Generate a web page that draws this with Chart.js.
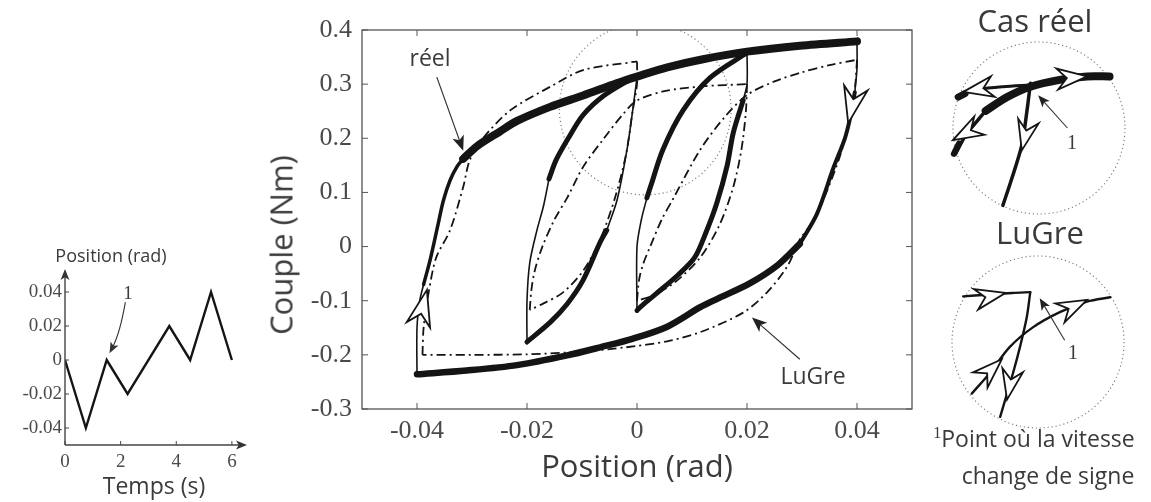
<!DOCTYPE html>
<html lang="fr">
<head>
<meta charset="utf-8">
<title>Hystérésis couple / position : cas réel et modèle LuGre</title>
<script src="https://cdn.jsdelivr.net/npm/chart.js@4.4.1/dist/chart.umd.min.js"></script>
<style>
  html, body { margin: 0; padding: 0; background: #fff; }
  body { position: relative; width: 1151px; height: 502px; overflow: hidden; font-family: "Open Sans", sans-serif; color: #3a3a3a; }
  .bloc { position: absolute; }
  .txt { position: absolute; white-space: nowrap; line-height: 1; transform: translate(-50%, -50%); }
  .serif { font-family: "Liberation Serif", serif; }
  sup { vertical-align: 0.55em; line-height: 0; }
</style>
</head>
<body>
<div class="bloc" style="left:0; top:236px; width:252px; height:266px;"><canvas id="graphePosition"></canvas></div>
<div class="bloc" style="left:250px; top:0; width:680px; height:502px;"><canvas id="grapheCouple"></canvas></div>
<div class="bloc" style="left:939px; top:28px; width:200px; height:200px;"><canvas id="loupeReel"></canvas></div>
<div class="bloc" style="left:938px; top:242px; width:200px; height:200px;"><canvas id="loupeLugre"></canvas></div>

<div class="txt" style="left:111px; top:255px; font-size:18px;">Position (rad)</div>
<div class="txt" style="left:154px; top:485px; font-size:23px;">Temps (s)</div>
<div class="txt serif" style="left:128px; top:292px; font-size:19px;">1</div>
<div class="txt" style="left:281px; top:245px; font-size:31px; transform: translate(-50%, -50%) rotate(-90deg);">Couple (Nm)</div>
<div class="txt" style="left:637px; top:465px; font-size:31px;">Position (rad)</div>
<div class="txt" style="left:430px; top:57px; font-size:23px;">réel</div>
<div class="txt" style="left:813px; top:375px; font-size:23px;">LuGre</div>
<div class="txt" style="left:1035px; top:20px; font-size:31px;">Cas réel</div>
<div class="txt" style="left:1040px; top:232px; font-size:31px;">LuGre</div>
<div class="txt serif" style="left:1072px; top:142px; font-size:20px;">1</div>
<div class="txt serif" style="left:1073px; top:352px; font-size:20px;">1</div>
<div class="txt" style="left:1034px; top:438px; font-size:23px;"><sup class="serif" style="font-size:16px;">1</sup>Point où la vitesse</div>
<div class="txt" style="left:1048px; top:475px; font-size:23px;">change de signe</div>

<script>
// --- Consigne de position (petit graphe de gauche) ---
const tempsS = [0, 0.75, 1.5, 2.25, 3.75, 4.5, 5.25, 6];
const positionRad = [0, -0.04, 0, -0.02, 0.02, 0, 0.04, 0];
const ticksTemps = [0, 2, 4, 6];
const ticksPosition = [-0.04, -0.02, 0, 0.02, 0.04];
// fleche "1" : depart, point de controle, arrivee
const repereUn = [2.17, 0.034, 1.98, 0.016, 1.6, 0.004];

// --- Couple en fonction de la position (graphe central) ---
const ticksX = [-0.04, -0.02, 0, 0.02, 0.04];
const ticksCouple = [-0.3, -0.2, -0.1, 0, 0.1, 0.2, 0.3, 0.4];

// mesure reelle, morceau par morceau
const reelMonteeVerticale = [[-0.04, -0.236], [-0.04, -0.15], [-0.0395, -0.1], [-0.0388, -0.07]];
const reelMonteeExt = [[-0.0388, -0.07], [-0.0376, -0.024], [-0.0363, 0.035], [-0.0352, 0.085], [-0.034, 0.122], [-0.0327, 0.148], [-0.0316, 0.162]];
const reelHautExt = [[-0.0316, 0.162], [-0.029, 0.186], [-0.025, 0.212], [-0.0218, 0.232], [-0.0158, 0.258], [-0.0098, 0.279], [-0.0036, 0.302], [0, 0.314], [0.0055, 0.331], [0.012, 0.346], [0.02, 0.36], [0.0296, 0.371], [0.04, 0.379]];
const reelDescenteVerticale = [[0.04, 0.379], [0.04, 0.33], [0.0396, 0.285]];
const reelDescenteExt = [[0.0396, 0.285], [0.0388, 0.24], [0.0378, 0.2], [0.0357, 0.145], [0.0327, 0.06], [0.0296, 0.005]];
const reelBasExt = [[0.0296, 0.005], [0.0255, -0.035], [0.0205, -0.068], [0.0145, -0.097], [0.0115, -0.112], [0.0055, -0.148], [-0.0007, -0.17], [-0.0067, -0.186], [-0.0127, -0.201], [-0.0218, -0.219], [-0.031, -0.229], [-0.04, -0.236]];
const reelDescGaucheFin = [[0, 0.312], [-0.0008, 0.25], [-0.0018, 0.18], [-0.0036, 0.087], [-0.0055, 0.03]];
const reelDescGaucheEpais = [[-0.0055, 0.03], [-0.0067, 0.008], [-0.0098, -0.062], [-0.0127, -0.106], [-0.0158, -0.14], [-0.02, -0.176]];
const reelMonteeGaucheFin = [[-0.02, -0.18], [-0.02, -0.1], [-0.0195, -0.03], [-0.0182, 0.03], [-0.017, 0.075], [-0.016, 0.125]];
const reelMonteeGaucheEpais = [[-0.016, 0.125], [-0.0147, 0.16], [-0.0125, 0.2], [-0.0098, 0.243], [-0.006, 0.279], [-0.0007, 0.312]];
const reelDescDroiteFin = [[0.02, 0.36], [0.02, 0.3], [0.0193, 0.27]];
const reelDescDroiteEpais = [[0.0193, 0.27], [0.0175, 0.21], [0.0164, 0.15], [0.0145, 0.08], [0.0125, 0.025], [0.0105, -0.02], [0.0075, -0.052], [0.0035, -0.087], [0.0008, -0.11], [0, -0.118]];
const reelMonteeDroiteFin = [[0, -0.12], [0, 0], [0.0008, 0.05], [0.0018, 0.09]];
const reelMonteeDroiteEpais = [[0.0018, 0.09], [0.0026, 0.115], [0.0047, 0.179], [0.0084, 0.252], [0.0133, 0.312], [0.02, 0.358]];

// modele LuGre
const lugreBas = [[0.04, 0.345], [0.0397, 0.3], [0.039, 0.25], [0.037, 0.17], [0.034, 0.09], [0.0315, 0.04], [0.0296, 0.013], [0.0273, -0.037], [0.0236, -0.085], [0.0193, -0.122], [0.0115, -0.158], [0.0055, -0.175], [-0.002, -0.186], [-0.01, -0.194], [-0.02, -0.199], [-0.03, -0.2], [-0.039, -0.2]];
const lugreMonteeExt = [[-0.039, -0.2], [-0.0388, -0.15], [-0.0378, -0.08], [-0.0365, -0.02], [-0.034, 0.03], [-0.0316, 0.11], [-0.0304, 0.16], [-0.028, 0.2], [-0.023, 0.252], [-0.0158, 0.295], [-0.0098, 0.326], [-0.0007, 0.341], [0, 0.342]];
const lugreDescGauche = [[0, 0.342], [0, 0.3], [-0.0008, 0.25], [-0.002, 0.17], [-0.004, 0.09], [-0.0067, 0.013], [-0.0098, -0.045], [-0.0135, -0.085], [-0.017, -0.105], [-0.0195, -0.117]];
const lugreMonteeInter = [[-0.0195, -0.117], [-0.0192, -0.08], [-0.0186, -0.045], [-0.0172, 0], [-0.015, 0.05], [-0.0127, 0.09], [-0.0098, 0.147], [-0.006, 0.2], [-0.0025, 0.245], [0, 0.27], [0.005, 0.287], [0.012, 0.296], [0.02, 0.3]];
const lugreDescDroite = [[0.02, 0.3], [0.0198, 0.25], [0.019, 0.18], [0.0175, 0.11], [0.015, 0.04], [0.0115, -0.02], [0.007, -0.065], [0.003, -0.09], [0, -0.1]];
const lugreMonteeDroite = [[0, -0.1], [0.0004, -0.06], [0.0012, -0.03], [0.0024, 0], [0.0045, 0.05], [0.0065, 0.087], [0.0115, 0.179], [0.016, 0.24], [0.02, 0.28], [0.025, 0.305], [0.03, 0.322], [0.035, 0.335], [0.04, 0.345]];

// pointes creuses [pointe x, pointe y, arriere x, arriere y]
const flechesCouple = [[-0.0382, -0.08, -0.0398, -0.147], [0.0384, 0.228, 0.0396, 0.284]];
// reperes "reel" et "LuGre" [depart x, depart y, arrivee x, arrivee y]
const reperesCouple = [[-0.0364, 0.313, -0.0316, 0.177], [0.0296, -0.208, 0.0209, -0.131]];
// cercle de la loupe [centre x, centre y, rayon en x]
const loupeCouple = [0.0015, 0.254, 0.0156];

// --- Loupes de droite (unites : rayon du cercle = 1) ---
const casReelEpais = [[-0.62, 0.2], [-0.37, 0.36], [-0.1, 0.48], [0.24, 0.56], [0.56, 0.6], [0.82, 0.6]];
const casReelBasGauche = [[-0.97, -0.3], [-0.85, -0.08], [-0.72, 0.08], [-0.62, 0.2]];
const casReelHautGauche = [[-0.1, 0.5], [-0.42, 0.48], [-0.7, 0.45], [-0.9, 0.4]];
const casReelDescente = [[-0.1, 0.52], [-0.14, 0.2], [-0.2, -0.2], [-0.32, -0.6], [-0.42, -0.9]];
const casReelBouts = [[-0.94, 0.36], [-0.86, 0.4]];
const casReelBoutBas = [[-0.99, -0.3], [-0.93, -0.18]];
const flechesCasReel = [[-0.88, 0.42, -0.55, 0.48], [-1.0, -0.14, -0.69, 0.03], [0.56, 0.6, 0.22, 0.57], [-0.2, -0.26, -0.13, 0.05]];
const repereCasReel = [0.33, 0.0, -0.01, 0.38];

const lugreHaut = [[-0.87, 0.53], [-0.6, 0.55], [-0.3, 0.57], [-0.09, 0.58]];
const lugreChute = [[-0.09, 0.58], [-0.13, 0.29], [-0.21, -0.06], [-0.29, -0.36], [-0.44, -0.87]];
const lugreCourbe = [[-0.77, -0.6], [-0.56, -0.36], [-0.33, -0.06], [-0.06, 0.17], [0.26, 0.35], [0.57, 0.47], [0.84, 0.52]];
const flechesLugre = [[-0.38, 0.57, -0.8, 0.48], [-0.36, -0.67, -0.3, -0.36], [-0.42, -0.2, -0.68, -0.45], [0.57, 0.49, 0.28, 0.35]];
const repereLugre = [0.31, 0.02, 0.02, 0.51];

const NOIR = '#141414';

Chart.defaults.font.family = '"Liberation Serif", serif';
Chart.defaults.animation = false;

function serie(points, largeur, pointille) {
    return {
        data: points.map(([x, y]) => ({ x, y })),
        showLine: true,
        borderColor: NOIR,
        borderWidth: largeur,
        borderDash: pointille ? [9, 4, 2, 4] : [],
        borderCapStyle: pointille ? 'butt' : 'round',
        borderJoinStyle: 'round',
        tension: 0.3,
        pointRadius: 0,
        pointHitRadius: 0,
    };
}

function trait(ctx, x1, y1, x2, y2) {
    ctx.beginPath();
    ctx.moveTo(x1, y1);
    ctx.lineTo(x2, y2);
    ctx.stroke();
}

// pointe creuse a encoche
function dard(ctx, xp, yp, xq, yq, longueur, largeur) {
    const a = Math.atan2(yp - yq, xp - xq);
    ctx.save();
    ctx.translate(xp, yp);
    ctx.rotate(a);
    ctx.beginPath();
    ctx.moveTo(0, 0);
    ctx.lineTo(-longueur, -largeur / 2);
    ctx.lineTo(-longueur * 0.68, 0);
    ctx.lineTo(-longueur, largeur / 2);
    ctx.closePath();
    ctx.fillStyle = '#fff';
    ctx.fill();
    ctx.lineWidth = 1.8;
    ctx.strokeStyle = NOIR;
    ctx.lineJoin = 'miter';
    ctx.stroke();
    ctx.restore();
}

function pointePleine(ctx, x, y, angle, taille) {
    ctx.save();
    ctx.translate(x, y);
    ctx.rotate(angle);
    ctx.beginPath();
    ctx.moveTo(0, 0);
    ctx.lineTo(-taille, -taille * 0.4);
    ctx.lineTo(-taille * 0.75, 0);
    ctx.lineTo(-taille, taille * 0.4);
    ctx.closePath();
    ctx.fill();
    ctx.restore();
}

function flechePleine(ctx, x1, y1, x2, y2, taille) {
    const a = Math.atan2(y2 - y1, x2 - x1);
    trait(ctx, x1, y1, x2 - Math.cos(a) * taille * 0.7, y2 - Math.sin(a) * taille * 0.7);
    pointePleine(ctx, x2, y2, a, taille);
}

function cerclePointille(ctx, cx, cy, r) {
    ctx.save();
    ctx.setLineDash([1.2, 2.8]);
    ctx.lineWidth = 1.1;
    ctx.strokeStyle = '#7a7a7a';
    ctx.beginPath();
    ctx.arc(cx, cy, r, 0, Math.PI * 2);
    ctx.stroke();
    ctx.restore();
}

// ---------- graphe de gauche ----------
const decorPosition = {
    id: 'decorPosition',
    afterDraw(chart) {
        const { ctx, chartArea: a, scales: { x, y } } = chart;
        const x0 = x.getPixelForValue(0);
        const yb = a.bottom;
        ctx.save();
        ctx.strokeStyle = '#444';
        ctx.fillStyle = '#333';
        ctx.lineWidth = 1.4;
        trait(ctx, x0, yb, x0, a.top - 2);
        trait(ctx, x0, yb, a.right, yb);
        pointePleine(ctx, x0, a.top - 6, -Math.PI / 2, 11);
        pointePleine(ctx, a.right + 4, yb, 0, 11);
        ctx.lineWidth = 1;
        ticksPosition.forEach(v => { const py = y.getPixelForValue(v); trait(ctx, x0, py, x0 + 4, py); });
        ticksTemps.forEach(v => { const px = x.getPixelForValue(v); trait(ctx, px, yb, px, yb - 4); });
        // fleche courbe vers le point 1
        const [t1, p1, tc, pc, t2, p2] = repereUn;
        const xa = x.getPixelForValue(t1), ya = y.getPixelForValue(p1);
        const xc = x.getPixelForValue(tc), yc = y.getPixelForValue(pc);
        const xe = x.getPixelForValue(t2), ye = y.getPixelForValue(p2);
        const ang = Math.atan2(ye - yc, xe - xc);
        ctx.strokeStyle = '#333';
        ctx.lineWidth = 1.1;
        ctx.beginPath();
        ctx.moveTo(xa, ya);
        ctx.quadraticCurveTo(xc, yc, xe - Math.cos(ang) * 7, ye - Math.sin(ang) * 7);
        ctx.stroke();
        pointePleine(ctx, xe, ye, ang, 11);
        ctx.restore();
    },
};

new Chart(document.getElementById('graphePosition'), {
    type: 'scatter',
    data: {
        datasets: [{
            data: tempsS.map((t, i) => ({ x: t, y: positionRad[i] })),
            showLine: true,
            borderColor: NOIR,
            borderWidth: 2.4,
            borderJoinStyle: 'miter',
            pointRadius: 0,
            pointHitRadius: 0,
        }],
    },
    options: {
        responsive: true,
        maintainAspectRatio: false,
        layout: { padding: { left: 0, right: 9, top: 39, bottom: 0 } },
        plugins: { legend: { display: false }, tooltip: { enabled: false } },
        scales: {
            x: {
                type: 'linear', min: 0, max: 6.4,
                afterBuildTicks: s => { s.ticks = ticksTemps.map(value => ({ value })); },
                afterFit: s => { s.height = 57; },
                grid: { display: false, drawTicks: false },
                border: { display: false },
                ticks: { padding: 6, color: '#4a4a4a', font: { size: 19 }, maxRotation: 0, autoSkip: false, callback: v => String(v) },
            },
            y: {
                type: 'linear', min: -0.05, max: 0.05,
                afterBuildTicks: s => { s.ticks = ticksPosition.map(value => ({ value })); },
                afterFit: s => { s.width = 65; },
                grid: { display: false, drawTicks: false },
                border: { display: false },
                ticks: { padding: 3, color: '#4a4a4a', font: { size: 19 }, autoSkip: false, callback: v => (v === 0 ? '0' : v.toFixed(2)) },
            },
        },
    },
    plugins: [decorPosition],
});

// ---------- graphe central ----------
const decorCouple = {
    id: 'decorCouple',
    beforeDatasetsDraw(chart) {
        const { ctx, chartArea: a, scales: { x, y } } = chart;
        const cx = x.getPixelForValue(loupeCouple[0]);
        const cy = y.getPixelForValue(loupeCouple[1]);
        const r = x.getPixelForValue(loupeCouple[0] + loupeCouple[2]) - cx;
        ctx.save();
        ctx.beginPath();
        ctx.rect(a.left, a.top, a.right - a.left, a.bottom - a.top);
        ctx.clip();
        cerclePointille(ctx, cx, cy, r);
        ctx.restore();
    },
    afterDatasetsDraw(chart) {
        const { ctx, chartArea: a, scales: { x, y } } = chart;
        ctx.save();
        flechesCouple.forEach(f => dard(ctx, x.getPixelForValue(f[0]), y.getPixelForValue(f[1]), x.getPixelForValue(f[2]), y.getPixelForValue(f[3]), 36, 24));
        ctx.strokeStyle = '#333';
        ctx.fillStyle = '#222';
        ctx.lineWidth = 1.2;
        reperesCouple.forEach(f => flechePleine(ctx, x.getPixelForValue(f[0]), y.getPixelForValue(f[1]), x.getPixelForValue(f[2]), y.getPixelForValue(f[3]), 15));
        ctx.strokeStyle = '#555';
        ctx.lineWidth = 1.3;
        ctx.strokeRect(a.left, a.top, a.right - a.left, a.bottom - a.top);
        ctx.lineWidth = 1;
        ticksX.forEach(v => {
            const px = x.getPixelForValue(v);
            trait(ctx, px, a.bottom, px, a.bottom - 6);
            trait(ctx, px, a.top, px, a.top + 6);
        });
        ticksCouple.forEach(v => {
            const py = y.getPixelForValue(v);
            trait(ctx, a.left, py, a.left + 6, py);
            trait(ctx, a.right, py, a.right - 6, py);
        });
        ctx.restore();
    },
};

new Chart(document.getElementById('grapheCouple'), {
    type: 'scatter',
    data: {
        datasets: [
            serie(reelHautExt, 8),
            serie(reelBasExt, 6.5),
            serie(reelMonteeExt, 3.5),
            serie(reelDescenteExt, 4),
            serie(reelMonteeVerticale, 1.6),
            serie(reelDescenteVerticale, 1.6),
            serie(reelDescGaucheFin, 1.6),
            serie(reelDescGaucheEpais, 5),
            serie(reelMonteeGaucheFin, 1.6),
            serie(reelMonteeGaucheEpais, 5),
            serie(reelDescDroiteFin, 1.6),
            serie(reelDescDroiteEpais, 5),
            serie(reelMonteeDroiteFin, 1.6),
            serie(reelMonteeDroiteEpais, 5),
            serie(lugreBas, 1.8, true),
            serie(lugreMonteeExt, 1.8, true),
            serie(lugreDescGauche, 1.8, true),
            serie(lugreMonteeInter, 1.8, true),
            serie(lugreDescDroite, 1.8, true),
            serie(lugreMonteeDroite, 1.8, true),
        ],
    },
    options: {
        responsive: true,
        maintainAspectRatio: false,
        layout: { padding: { left: 0, right: 18, top: 30, bottom: 0 } },
        plugins: { legend: { display: false }, tooltip: { enabled: false } },
        scales: {
            x: {
                type: 'linear', min: -0.05, max: 0.05,
                afterBuildTicks: s => { s.ticks = ticksX.map(value => ({ value })); },
                afterFit: s => { s.height = 93; },
                grid: { display: false, drawTicks: false },
                border: { display: false },
                ticks: { padding: 7, color: '#4a4a4a', font: { size: 26 }, maxRotation: 0, autoSkip: false, callback: v => (v === 0 ? '0' : v.toFixed(2)) },
            },
            y: {
                type: 'linear', min: -0.3, max: 0.4,
                afterBuildTicks: s => { s.ticks = ticksCouple.map(value => ({ value })); },
                afterFit: s => { s.width = 112; },
                grid: { display: false, drawTicks: false },
                border: { display: false },
                ticks: { padding: 10, color: '#4a4a4a', font: { size: 26 }, autoSkip: false, callback: v => (v === 0 ? '0' : v.toFixed(1)) },
            },
        },
    },
    plugins: [decorCouple],
});

// ---------- loupes de droite ----------
const BORNE = 100 / 86;

function decorLoupe(id, fleches, repere) {
    return {
        id,
        beforeDatasetsDraw(chart) {
            const { ctx, scales: { x, y } } = chart;
            const cx = x.getPixelForValue(0), cy = y.getPixelForValue(0);
            cerclePointille(ctx, cx, cy, x.getPixelForValue(1) - cx);
        },
        afterDatasetsDraw(chart) {
            const { ctx, scales: { x, y } } = chart;
            ctx.save();
            fleches.forEach(f => dard(ctx, x.getPixelForValue(f[0]), y.getPixelForValue(f[1]), x.getPixelForValue(f[2]), y.getPixelForValue(f[3]), 30, 21));
            ctx.strokeStyle = '#333';
            ctx.fillStyle = '#222';
            ctx.lineWidth = 1.1;
            flechePleine(ctx, x.getPixelForValue(repere[0]), y.getPixelForValue(repere[1]), x.getPixelForValue(repere[2]), y.getPixelForValue(repere[3]), 12);
            ctx.restore();
        },
    };
}

function optionsLoupe() {
    return {
        responsive: true,
        maintainAspectRatio: false,
        layout: { padding: 0 },
        plugins: { legend: { display: false }, tooltip: { enabled: false } },
        scales: {
            x: { type: 'linear', min: -BORNE, max: BORNE, display: false },
            y: { type: 'linear', min: -BORNE, max: BORNE, display: false },
        },
    };
}

new Chart(document.getElementById('loupeReel'), {
    type: 'scatter',
    data: {
        datasets: [
            serie(casReelEpais, 8),
            serie(casReelBasGauche, 3.5),
            serie(casReelHautGauche, 3),
            serie(casReelDescente, 3.5),
            serie(casReelBouts, 7),
            serie(casReelBoutBas, 6),
        ],
    },
    options: optionsLoupe(),
    plugins: [decorLoupe('decorCasReel', flechesCasReel, repereCasReel)],
});

new Chart(document.getElementById('loupeLugre'), {
    type: 'scatter',
    data: {
        datasets: [
            serie(lugreHaut, 2.4),
            serie(lugreChute, 2.4),
            serie(lugreCourbe, 2.4),
        ],
    },
    options: optionsLoupe(),
    plugins: [decorLoupe('decorLugre', flechesLugre, repereLugre)],
});
</script>
</body>
</html>
